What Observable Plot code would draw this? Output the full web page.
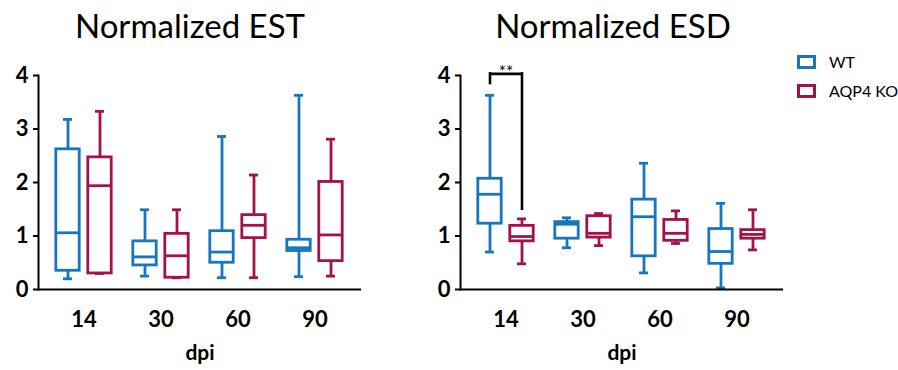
<!DOCTYPE html>
<html>
<head>
<meta charset="utf-8">
<script src="https://cdn.jsdelivr.net/npm/d3@7"></script>
<script src="https://cdn.jsdelivr.net/npm/@observablehq/plot@0.6"></script>
<style>
  body { margin: 0; background: white; }
  #wrap { position: relative; width: 898px; height: 370px; background: white; font-family: Lato, "Open Sans", sans-serif; overflow: hidden; }
  .title { position: absolute; top: 9px; font-size: 33px; line-height: 33px; color: #000; transform: translateX(-50%); white-space: nowrap; }
  .panel { position: absolute; top: 0; }
  .legend { position: absolute; left: 797px; font-size: 16px; color: #000; display: flex; align-items: center; white-space: nowrap; }
  .sw { width: 13px; height: 8px; border: 3px solid; margin-right: 13px; }
</style>
</head>
<body>
<div id="wrap">
  <div class="title" style="left:190px">Normalized EST</div>
  <div class="title" style="left:613px">Normalized ESD</div>
  <div id="left" class="panel" style="left:0px"></div>
  <div id="right" class="panel" style="left:400px"></div>
  <div id="legend"></div>
</div>
<script>
// categories
const dpi = ["14", "30", "60", "90"];
const groups = ["WT", "AQP4 KO"];
// box statistics per dpi: [min, q1, median, q3, max]
const estWT = [[0.20, 0.35, 1.06, 2.62, 3.18], [0.25, 0.45, 0.61, 0.90, 1.49], [0.22, 0.50, 0.70, 1.09, 2.86], [0.24, 0.72, 0.78, 0.93, 3.63]];
const estKO = [[0.30, 0.30, 1.94, 2.47, 3.33], [0.22, 0.22, 0.63, 1.04, 1.49], [0.22, 0.96, 1.20, 1.39, 2.14], [0.25, 0.53, 1.02, 2.01, 2.81]];
const esdWT = [[0.70, 1.23, 1.78, 2.07, 3.63], [0.78, 0.95, 1.22, 1.26, 1.34], [0.31, 0.62, 1.36, 1.68, 2.36], [0.03, 0.48, 0.71, 1.13, 1.61]];
const esdKO = [[0.48, 0.90, 0.99, 1.19, 1.32], [0.82, 0.97, 1.05, 1.37, 1.42], [0.86, 0.91, 1.05, 1.30, 1.47], [0.74, 0.95, 1.03, 1.11, 1.49]];
// significance annotation (ESD, 14 dpi)
const sigESD = [{dpi: "14", top: 4.03, leftEnd: 3.85, rightEnd: 1.50, label: "**"}];
const yTicks = [0, 1, 2, 3, 4];

const colors = {"WT": "#1776BE", "AQP4 KO": "#A3124B"};
const offsets = {"WT": -16, "AQP4 KO": 16};
const SW = 2.8, BOX_INSET = 22.8, CAP_INSET = 30;

function rows(wt, ko) {
  const out = [];
  [[groups[0], wt], [groups[1], ko]].forEach(([g, arr]) => {
    arr.forEach((s, i) => out.push({dpi: dpi[i], group: g, min: s[0], q1: s[1], median: s[2], q3: s[3], max: s[4]}));
  });
  return out;
}

function panel(data, {marginLeft, marginRight, width, sig}) {
  const marks = [];
  for (const g of groups) {
    const d = data.filter(r => r.group === g);
    const common = {x: "dpi", dx: offsets[g], stroke: colors[g], strokeWidth: SW};
    marks.push(
      Plot.ruleX(d, {...common, y1: "min", y2: "q1"}),
      Plot.ruleX(d, {...common, y1: "q3", y2: "max"}),
      Plot.barY(d, {...common, y1: "q1", y2: "q3", fill: "white", insetLeft: BOX_INSET, insetRight: BOX_INSET}),
      Plot.tickY(d, {...common, y: "median", insetLeft: BOX_INSET, insetRight: BOX_INSET}),
      Plot.tickY(d, {...common, y: "min", insetLeft: CAP_INSET, insetRight: CAP_INSET}),
      Plot.tickY(d, {...common, y: "max", insetLeft: CAP_INSET, insetRight: CAP_INSET})
    );
  }
  if (sig) {
    const bw = 69.9;
    marks.push(
      Plot.ruleX(sig, {x: "dpi", y1: "leftEnd", y2: "top", dx: offsets["WT"], stroke: "black", strokeWidth: 2.6, strokeLinecap: "square"}),
      Plot.ruleX(sig, {x: "dpi", y1: "rightEnd", y2: "top", dx: offsets["AQP4 KO"], stroke: "black", strokeWidth: 2.6, strokeLinecap: "square"}),
      Plot.tickY(sig, {x: "dpi", y: "top", insetLeft: bw / 2 - 16, insetRight: bw / 2 - 16, stroke: "black", strokeWidth: 2.6}),
      Plot.text(sig, {x: "dpi", y: "top", text: "label", dy: 4, lineAnchor: "bottom", fontSize: 17, fontWeight: "normal"})
    );
  }
  marks.push(
    Plot.frame({anchor: "left", strokeWidth: 2}),
    Plot.ruleY([0], {strokeWidth: 2}),
    Plot.axisY({ticks: yTicks, tickSize: 5, tickPadding: 5, strokeWidth: 2, label: null, tickFormat: d3.format("d")}),
    Plot.axisX({tickSize: 0, tickPadding: 22, label: null}),
    Plot.text(["dpi"], {text: d => d, frameAnchor: "bottom", dy: 70, fontSize: 21, fontWeight: "bold"})
  );
  return Plot.plot({
    width, height: 370,
    marginLeft, marginRight, marginTop: 75, marginBottom: 81,
    x: {type: "band", domain: dpi, paddingInner: 0.1, paddingOuter: 0.1285},
    y: {domain: [0, 4]},
    style: {fontFamily: "Lato, 'Open Sans', sans-serif", fontSize: "22px", fontWeight: "bold", color: "black", background: "transparent", overflow: "visible"},
    marks
  });
}

document.getElementById("left").appendChild(panel(rows(estWT, estKO), {width: 400, marginLeft: 38, marginRight: 39}));
document.getElementById("right").appendChild(panel(rows(esdWT, esdKO), {width: 398, marginLeft: 60, marginRight: 15, sig: sigESD}));

// legend
const legendTops = [52, 81];
const lg = document.getElementById("legend");
groups.forEach((g, i) => {
  const el = document.createElement("div");
  el.className = "legend";
  el.style.top = legendTops[i] + "px";
  const sw = document.createElement("div");
  sw.className = "sw";
  sw.style.borderColor = colors[g];
  const t = document.createElement("span");
  t.textContent = g;
  el.appendChild(sw); el.appendChild(t);
  lg.appendChild(el);
});
</script>
</body>
</html>
